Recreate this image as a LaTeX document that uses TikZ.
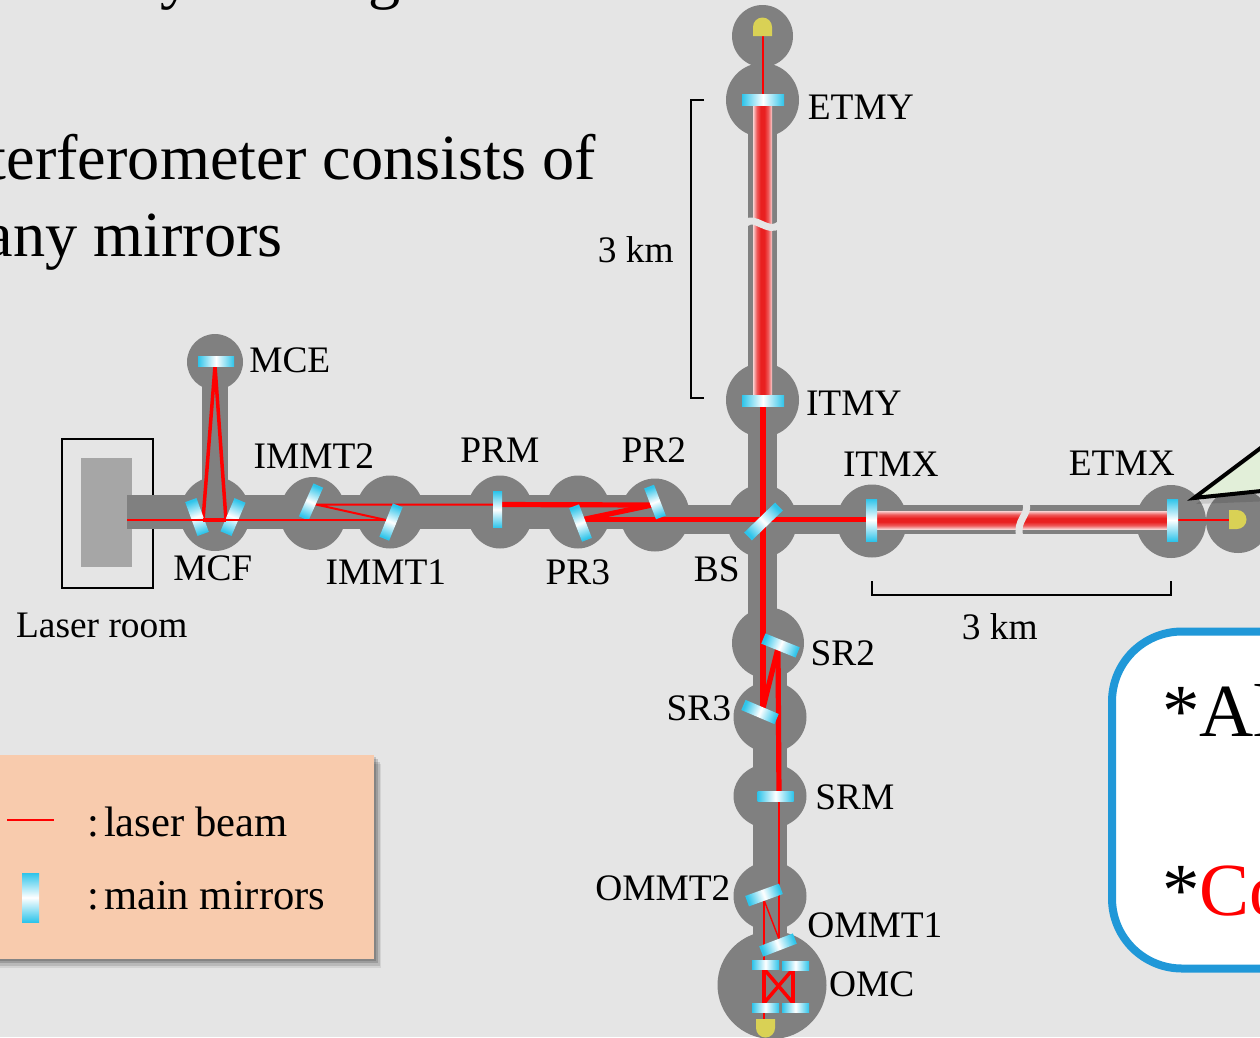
\documentclass[tikz,border=0pt]{standalone}
\usepackage{fontspec}
\setmainfont{Liberation Serif}
\usepackage{xcolor}
\usepackage{tikz}
\usetikzlibrary{shapes.geometric,shadows}

\definecolor{slidebg}{HTML}{E5E5E5}
\definecolor{vacgray}{HTML}{808080}
\definecolor{roomgray}{HTML}{A6A6A6}
\definecolor{mircyan}{HTML}{2EC4EA}
\definecolor{pdyellow}{HTML}{D9D155}
\definecolor{cavred}{HTML}{E92020}
\definecolor{cavmid}{HTML}{EE5A5A}
\definecolor{cavedge}{HTML}{F9D2D2}
\definecolor{peach}{HTML}{F8CBAD}
\definecolor{boxblue}{HTML}{2098D8}
\definecolor{callgreen}{HTML}{E2EFD9}

\pgfdeclareverticalshading{cavshade}{100bp}{color(0bp)=(cavedge); color(25bp)=(cavedge); color(35bp)=(cavmid); color(45bp)=(cavred); color(55bp)=(cavred); color(65bp)=(cavmid); color(75bp)=(cavedge); color(100bp)=(cavedge)}

\begin{document}
\begin{tikzpicture}[
    x=1pt, y=-1pt,
    chamber/.style={ellipse, fill=vacgray, inner sep=0pt, minimum width=70pt, minimum height=73pt},
    pipewide/.style={draw=vacgray, line width=34pt},
    pipearm/.style={draw=vacgray, line width=29pt},
    pipethin/.style={draw=vacgray, line width=26pt},
    mir/.style={rectangle, inner sep=0pt, minimum width=36pt, minimum height=10pt, left color=mircyan, right color=mircyan, middle color=white},
    mirrot/.style={rotate=#1, shading angle=#1+90},
    thinbeam/.style={draw=red, line width=2pt},
    midbeam/.style={draw=red, line width=3.5pt},
    thickbeam/.style={draw=red, line width=5.2pt},
    cavity/.style={rectangle, inner sep=0pt, shade, shading=cavshade},
    lab/.style={font=\fontsize{37.4}{40}\selectfont, inner sep=0pt, xshift=0.8pt},
    big/.style={font=\fontsize{64.3}{70}\selectfont, inner sep=0pt, anchor=base east},
    legtext/.style={font=\fontsize{42.6}{46}\selectfont, inner sep=0pt, anchor=base west},
    boxtext/.style={font=\fontsize{75}{80}\selectfont, inner sep=0pt, anchor=base west},
    bracket/.style={draw=black, line width=1.5pt},
    gap/.style={draw=slidebg, line width=7pt},
    pd/.style={fill=pdyellow},
]

\useasboundingbox (0, 0) rectangle (1260, 1037);
\clip (0, 0) rectangle (1260, 1037);
\fill[slidebg] (0, 0) rectangle (1260, 1037);

% Text of the slide
\node[big, anchor=base west] (ty) at (160, -4) {y};
\node[big, anchor=base west] (tg) at (368, -4) {g};
\node[big] (line1) at (596, 179) {terferometer consists of};
\node[big] (line2) at (283, 256) {any mirrors};

% Laser room
\node[draw=black, line width=1.5pt, minimum width=91pt, minimum height=149pt, inner sep=0pt] (lroom) at (107.5, 513.5) {};
\node[fill=roomgray, minimum width=51pt, minimum height=109pt, inner sep=0pt] (laser) at (106.5, 512.5) {};

% Vacuum chambers
\node[chamber, minimum width=56pt, minimum height=56pt] (cMCE) at (215, 362) {};
\node[chamber, minimum width=70pt, minimum height=74pt] (cMCF) at (215, 514) {};
\node[chamber, minimum width=66pt, minimum height=73pt] (cIMMT2) at (313, 513.5) {};
\node[chamber, minimum width=68pt, minimum height=73pt] (cIMMT1) at (390, 512) {};
\node[chamber, minimum width=66pt, minimum height=73pt] (cPRM) at (500, 512) {};
\node[chamber, minimum width=65pt, minimum height=73pt] (cPR3) at (578, 512) {};
\node[chamber, minimum width=69pt, minimum height=73pt] (cPR2) at (655, 515) {};
\node[chamber] (cBS) at (762, 521) {};
\node[chamber] (cITMX) at (872, 521) {};
\node[chamber] (cETMX) at (1171, 521.5) {};
\node[chamber, minimum width=64pt, minimum height=64pt] (cPDX) at (1238, 521) {};
\node[chamber, minimum width=61pt, minimum height=62pt] (cPDY) at (762.5, 36) {};
\node[chamber, minimum width=73pt, minimum height=74pt] (cETMY) at (762.5, 100) {};
\node[chamber, minimum width=73pt, minimum height=74pt] (cITMY) at (762.5, 400) {};
\node[chamber, minimum width=72pt, minimum height=71pt] (cSR2) at (768, 643) {};
\node[chamber, minimum width=73pt, minimum height=71pt] (cSR3) at (770, 717) {};
\node[chamber, minimum width=73pt, minimum height=65pt] (cSRM) at (770, 796) {};
\node[chamber, minimum width=73pt, minimum height=69pt] (cOMMT2) at (770, 896) {};
\node[chamber, minimum width=109pt, minimum height=108pt] (cOMC) at (772, 985) {};

% Pipes
\coordinate (pipeW) at (127, 512);
\coordinate (pipeE) at (655, 512);
\coordinate (armW) at (655, 519.5);
\coordinate (armE) at (1171, 519.5);
\coordinate (armN) at (762.5, 100);
\coordinate (armS) at (762.5, 643);
\coordinate (tubeN) at (770, 643);
\coordinate (tubeS) at (770, 985);
\draw[pipewide] (pipeW) -- (pipeE);
\draw[pipearm] (armW) -- (armE);
\draw[pipearm] (armN) -- (armS);
\draw[pipearm, line width=34pt] (tubeN) -- (tubeS);
\draw[pipethin] (cMCE.center) -- (cMCF.center);

% Arm cavities
\node[cavity, shading angle=0, minimum width=290pt, minimum height=18pt] (cavX) at (1022, 520) {};
\node[cavity, shading angle=90, minimum width=19pt, minimum height=290pt] (cavY) at (762.5, 250) {};

% Breaks in the arms
\draw[gap] (746, 223) .. controls (755, 215) and (768, 234) .. (779, 225);
\draw[gap] (1026, 503) .. controls (1030, 515) and (1015, 520) .. (1020, 537);

% Beam points
\coordinate (pMCFa) at (203, 520);
\coordinate (pMCFb) at (226, 520);
\coordinate (pMCE) at (215, 366);
\coordinate (pIMa) at (386, 520);
\coordinate (pIMb) at (316, 504.5);
\coordinate (pPRM) at (498, 504.5);
\coordinate (pPR2) at (652, 505);
\coordinate (pPR3) at (583, 519.5);
\coordinate (pITMX) at (871, 519.5);
\coordinate (pETMX) at (1177, 520);
\coordinate (pPDX) at (1230, 520);
\coordinate (pITMY) at (763, 405);
\coordinate (pBS) at (763, 519.5);
\coordinate (pSR3) at (763, 708);
\coordinate (pSR2) at (778, 648);
\coordinate (pSRM) at (779, 796);
\coordinate (pOMb) at (779, 939);
\coordinate (pOMa) at (764, 900);
\coordinate (pPDO) at (764, 1021);
\coordinate (pETMY) at (763, 95);
\coordinate (pPDY) at (763, 35);
\coordinate (bowA) at (764, 969);
\coordinate (bowB) at (793, 969);
\coordinate (bowC) at (793, 1003);
\coordinate (bowD) at (764, 1003);

% Beams
\draw[midbeam] (pMCFa) -- (pMCE) -- (pMCFb) -- cycle;
\draw[thinbeam] (pIMa) -- (pIMb) -- (pPRM);
\draw[thickbeam] (pPRM) -- (pPR2);
\draw[thickbeam] (pPR2) -- (pPR3);
\draw[thickbeam] (pPR3) -- (pITMX);
\draw[thinbeam] (pETMX) -- (pPDX);
\draw[thickbeam] (pITMY) -- (pBS);
\draw[thickbeam] (pBS) -- (pSR3);
\draw[thickbeam] (pSR3) -- (pSR2);
\draw[thickbeam] (pSR2) -- (pSRM);
\draw[thinbeam] (pSRM) -- (pOMb);
\draw[thinbeam, line width=1.4pt] (pOMb) -- (pOMa);
\draw[thinbeam] (pOMa) -- (pPDO);
\draw[thinbeam] (pETMY) -- (pPDY);
\draw[midbeam] (bowA) -- (bowD);
\draw[midbeam] (bowB) -- (bowC);
\draw[midbeam] (bowA) -- (bowC);
\draw[midbeam] (bowB) -- (bowD);

% Mirrors
\node[mir] (mMCE) at (216, 361) {};
\node[mir, mirrot=-70, minimum height=12pt] (mMCFa) at (197, 517) {};
\node[mir, mirrot=67, minimum height=12pt] (mMCFb) at (233, 517) {};
\node[mir, mirrot=66, minimum height=10.5pt] (mIMMT2) at (311, 502) {};
\node[mir, mirrot=68, minimum height=10.5pt] (mIMMT1) at (391, 522) {};
\node[mir, mirrot=90, minimum height=9pt] (mPRM) at (497.5, 509.5) {};
\node[mir, mirrot=-69, minimum height=10.5pt] (mPR3) at (580.5, 523) {};
\node[mir, mirrot=-69, minimum width=33pt, minimum height=10.5pt] (mPR2) at (655, 502) {};
\node[mir, mirrot=44, minimum width=43pt, minimum height=11pt] (mBS) at (763.5, 521.5) {};
\node[mir, mirrot=90, minimum width=42pt, minimum height=11pt] (mITMX) at (871.5, 520) {};
\node[mir, mirrot=90, minimum width=42pt, minimum height=11pt] (mETMX) at (1172.5, 520) {};
\node[mir, minimum width=42pt, minimum height=11pt] (mETMY) at (763, 99.5) {};
\node[mir, minimum width=42pt, minimum height=11pt] (mITMY) at (763, 401) {};
\node[mir, mirrot=-22, minimum width=37pt, minimum height=11pt] (mSR2) at (780.5, 645.5) {};
\node[mir, mirrot=-23, minimum width=36pt, minimum height=11pt] (mSR3) at (760, 712) {};
\node[mir] (mSRM) at (775.5, 796.5) {};
\node[mir, mirrot=20, minimum width=36pt, minimum height=11pt] (mOMMT2) at (764, 895) {};
\node[mir, mirrot=21, minimum width=36pt, minimum height=11pt] (mOMMT1) at (778, 945) {};
\node[mir, minimum width=27pt, minimum height=9pt] (mOMCa) at (765.5, 965) {};
\node[mir, minimum width=27pt, minimum height=9pt] (mOMCb) at (795.5, 965.5) {};
\node[mir, minimum width=27pt, minimum height=9pt] (mOMCc) at (765.5, 1007.5) {};
\node[mir, minimum width=27pt, minimum height=9pt] (mOMCd) at (795.5, 1007.5) {};

% Input beam lies over the cleaner mirrors
\coordinate (pIn) at (127, 520);
\draw[thinbeam] (pIn) -- (pMCFa);
\draw[midbeam] (pMCFa) -- (pMCFb);
\draw[thinbeam] (pMCFb) -- (pIMa);

% Photo detectors
\fill[pd] (753, 36) -- (753, 27) arc[start angle=180, end angle=360, radius=9.5] -- (772, 36) -- cycle;
\fill[pd] (1229, 510) -- (1237, 510) arc[start angle=-90, end angle=90, radius=9.5] -- (1229, 529) -- cycle;
\fill[pd] (756, 1019) -- (775, 1019) -- (775, 1028) arc[start angle=0, end angle=180, radius=9.5] -- cycle;

% Labels
\node[lab] (tMCE) at (289, 360) {MCE};
\node[lab] (tIMMT2) at (313, 456) {IMMT2};
\node[lab] (tMCF) at (212, 568) {MCF};
\node[lab] (tIMMT1) at (385, 572) {IMMT1};
\node[lab] (tPRM) at (499, 450) {PRM};
\node[lab] (tPR2) at (653, 450) {PR2};
\node[lab] (tPR3) at (577, 572) {PR3};
\node[lab] (tBS) at (716, 569) {BS};
\node[lab] (tITMX) at (890, 464) {ITMX};
\node[lab] (tETMX) at (1121, 463) {ETMX};
\node[lab] (tETMY) at (860, 107) {ETMY};
\node[lab] (tITMY) at (853, 403) {ITMY};
\node[lab] (tSR2) at (842, 653) {SR2};
\node[lab] (tSR3) at (698, 708) {SR3};
\node[lab] (tSRM) at (854, 797) {SRM};
\node[lab] (tOMMT2) at (662, 888) {OMMT2};
\node[lab] (tOMMT1) at (874, 925) {OMMT1};
\node[lab] (tOMC) at (871, 984) {OMC};
\node[lab] (tRoom) at (101, 625) {Laser room};

% Length brackets
\coordinate (brYa) at (704, 100);
\coordinate (brYb) at (691, 100);
\coordinate (brYc) at (691, 398);
\coordinate (brYd) at (704, 398);
\coordinate (brXa) at (872, 581);
\coordinate (brXb) at (872, 595);
\coordinate (brXc) at (1171, 595);
\coordinate (brXd) at (1171, 581);
\draw[bracket] (brYa) -- (brYb) -- (brYc) -- (brYd);
\draw[bracket] (brXa) -- (brXb) -- (brXc) -- (brXd);
\node[lab] (kmY) at (635, 250) {3 km};
\node[lab] (kmX) at (999, 627) {3 km};

% Legend
\node[rectangle, fill=peach, inner sep=0pt, minimum width=394pt, minimum height=204pt,
      drop shadow={shadow xshift=2pt, shadow yshift=-2pt, fill=black, opacity=0.15},
      drop shadow={shadow xshift=4pt, shadow yshift=-4pt, fill=black, opacity=0.15},
      drop shadow={shadow xshift=6pt, shadow yshift=-7pt, fill=black, opacity=0.12},
      drop shadow={shadow xshift=7pt, shadow yshift=-9pt, fill=black, opacity=0.08}] (legend) at (177, 857) {};
\coordinate (legA) at (7, 820);
\coordinate (legB) at (54, 820);
\draw[thinbeam] (legA) -- (legB);
\node[mir, mirrot=90, minimum width=49pt, minimum height=17pt] (legM) at (30.5, 897.5) {};
\node[legtext] (legT1) at (87, 836) {:\kern5pt laser beam};
\node[legtext] (legT2) at (87, 909) {:\kern5pt main mirrors};

% Callout
\fill[black, opacity=0.12] (1196, 504) -- (1296, 432) -- (1296, 500) -- cycle;
\draw[draw=black, fill=callgreen, line width=4pt] (1194, 498) -- (1290, 426) -- (1290, 488) -- cycle;

% Box
\node[rectangle, rounded corners=70pt, draw=boxblue, line width=8pt, fill=white, inner sep=0pt, minimum width=300pt, minimum height=337pt] (note) at (1262, 800) {};
\node[boxtext] (noteA) at (1162, 736) {*Al};
\node[boxtext] (noteB) at (1162, 915) {*\textcolor{red}{Co}};

\end{tikzpicture}
\end{document}
